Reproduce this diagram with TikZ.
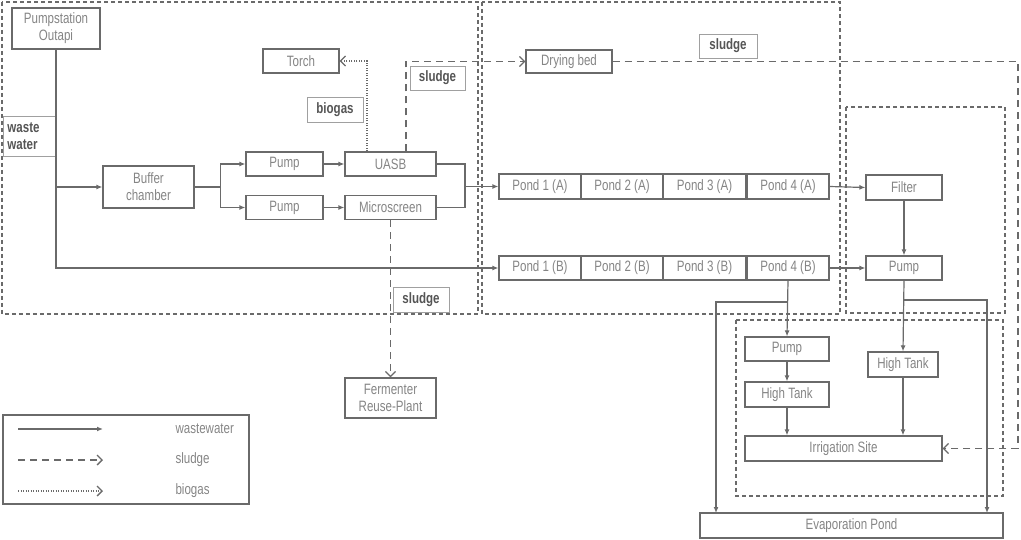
\documentclass[tikz,border=0pt]{standalone}
\usepackage{fontspec}
\setmainfont{Liberation Sans}[FakeStretch=0.77]
\usepackage{tikz}
\usetikzlibrary{arrows.meta}

\definecolor{linegray}{HTML}{6A6A6A}
\definecolor{textgray}{HTML}{858585}
\definecolor{taggray}{HTML}{A0A0A0}
\definecolor{boldgray}{HTML}{555555}

\newcommand{\boxfont}{\fontsize{15}{17}\selectfont}

\tikzset{
	unit/.style = {draw = linegray, line width = 1.2pt, fill = white, text = textgray, inner sep = 0pt, align = center, minimum width = 77pt, minimum height = 24pt},
	tag/.style = {draw = taggray, line width = 0.9pt, fill = white, text = boldgray, font = \boxfont\bfseries, inner sep = 0pt, align = left, minimum height = 25pt},
	water/.style = {draw = linegray, line width = 1.2pt, -{Latex[length = 6pt, width = 5pt]}},
	pipe/.style = {draw = linegray, line width = 1.2pt},
	sludgeflow/.style = {draw = linegray, line width = 1.3pt, dash pattern = on 7pt off 5pt, -{Straight Barb[length = 5pt, width = 10pt]}},
	gasflow/.style = {draw = linegray, line width = 1.3pt, dash pattern = on 1pt off 1.5pt, -{Straight Barb[length = 5pt, width = 10pt]}},
	zone/.style = {draw = linegray, line width = 1.3pt, dash pattern = on 4pt off 3pt}
}

\begin{document}
\begin{tikzpicture}[x = 1pt, y = -1pt, font = \boxfont]
	\useasboundingbox (0, 0) rectangle (1021, 540);
	% zones
	\draw[zone] (2, 2) rectangle (478, 314);
	\draw[zone] (482, 2) rectangle (840, 314);
	\draw[zone] (846, 107) rectangle (1005, 313);
	\draw[zone] (736, 320) rectangle (1003, 496);
	% inflow and pretreatment
	\node[unit, minimum width = 88pt, minimum height = 41pt] (pumpstation) at (56, 28.5) {Pumpstation\\Outapi};
	\node[unit, minimum width = 91pt, minimum height = 42pt] (buffer) at (148.5, 187) {Buffer\\chamber};
	\node[unit] (pumpA) at (284.5, 164) {Pump};
	\node[unit] (pumpB) at (284.5, 207.5) {Pump};
	\node[unit, minimum width = 91pt] (uasb) at (390.5, 164) {UASB};
	\node[unit, minimum width = 91pt] (microscreen) at (390.5, 207.5) {Microscreen};
	\node[unit, minimum width = 76pt] (torch) at (301, 61) {Torch};
	\node[unit, minimum width = 91pt, minimum height = 40pt] (fermenter) at (390.5, 398) {Fermenter\\Reuse-Plant};
	\node[unit, minimum width = 86pt, minimum height = 23pt] (dryingbed) at (569, 61.5) {Drying bed};
	% ponds
	\foreach \i/\x in {1/540, 2/622, 3/704.5, 4/788} {
		\node[unit, minimum width = 82pt, minimum height = 25pt] (pondA\i) at (\x, 186.5) {Pond \i{} (A)};
		\node[unit, minimum width = 82pt, minimum height = 24pt] (pondB\i) at (\x, 268) {Pond \i{} (B)};
	}
	% reuse
	\node[unit, minimum width = 76pt, minimum height = 25pt] (filter) at (904, 187.5) {Filter};
	\node[unit, minimum width = 76pt] (pumpC) at (904, 268) {Pump};
	\node[unit, minimum width = 84pt] (pumpD) at (787, 349) {Pump};
	\node[unit, minimum width = 84pt, minimum height = 25pt] (tankL) at (787, 394.5) {High Tank};
	\node[unit, minimum width = 70pt, minimum height = 25pt] (tankR) at (903, 364.5) {High Tank};
	\node[unit, minimum width = 197pt, minimum height = 25pt] (irrigation) at (843.5, 448.5) {Irrigation Site};
	\node[unit, minimum width = 303pt, minimum height = 25pt] (evap) at (851.5, 525.5) {Evaporation Pond};
	% tags
	\node[tag, minimum width = 52pt, minimum height = 40pt, text width = 44pt, inner sep = 4pt, anchor = west] (wastewatertag) at (3, 136) {waste\\water};
	\node[tag, minimum width = 56pt] (biogastag) at (335, 109.5) {biogas};
	\node[tag, minimum width = 55pt, minimum height = 24pt] (sludgetagA) at (437.5, 78) {sludge};
	\node[tag, minimum width = 56pt] (sludgetagB) at (421, 299.5) {sludge};
	\node[tag, minimum width = 58pt, minimum height = 24pt] (sludgetagC) at (728, 46) {sludge};
	% wastewater lines
	\coordinate (merge) at (465, 186.5);
	\coordinate (splitL) at (788, 302);
	\coordinate (splitR) at (904, 300);
	\coordinate (evapL) at (716, 513);
	\coordinate (evapR) at (987, 513);
	\draw[water] (pumpstation.south) |- (pondB1.west);
	\draw[water] (pumpstation.south |- buffer.west) -- (buffer.west);
	\draw[water] (buffer.east) -- ++(26, 0) |- (pumpA.west);
	\draw[water] (buffer.east) -- ++(26, 0) |- (pumpB.west);
	\draw[water] (pumpA) -- (uasb);
	\draw[water] (pumpB) -- (microscreen);
	\draw[pipe] (uasb.east) -| (merge);
	\draw[pipe] (microscreen.east) -| (merge);
	\draw[water] (merge) -- (pondA1.west);
	\draw[water] (pondA4.east) -- (filter.west);
	\draw[water] (pondB4.east) -- (pumpC.west);
	\draw[water] (filter) -- (pumpC);
	\draw[water] (pondB4.south) -- (pumpD.north);
	\draw[water] (splitL) -| (evapL);
	\draw[water] (pumpD) -- (tankL);
	\draw[water] (tankL.south) -- (tankL.south |- irrigation.north);
	\draw[water] (pumpC.south) -- (tankR.north);
	\draw[water] (splitR) -| (evapR);
	\draw[water] (tankR.south) -- (tankR.south |- irrigation.north);
	% sludge and biogas lines
	\coordinate (sludgecorner) at (1018, 61.5);
	\draw[gasflow] ([xshift = -23.5pt]uasb.north) |- (torch.east);
	\draw[sludgeflow] ([xshift = 15.5pt]uasb.north) |- (dryingbed.west);
	\draw[sludgeflow] (microscreen.south) -- (fermenter.north);
	\draw[sludgeflow] (dryingbed.east) -- (sludgecorner) |- (irrigation.east);
	% legend
	\draw[pipe] (3, 415) rectangle (249, 504);
	\coordinate (legA) at (18, 429);
	\coordinate (legB) at (18, 460);
	\coordinate (legC) at (18, 491);
	\draw[water] (legA) -- ++(85, 0);
	\draw[sludgeflow] (legB) -- ++(85, 0);
	\draw[gasflow] (legC) -- ++(85, 0);
	\node[text = textgray, anchor = west] (legwater) at (172, 429) {wastewater};
	\node[text = textgray, anchor = west] (legsludge) at (172, 460) {sludge};
	\node[text = textgray, anchor = west] (leggas) at (172, 491) {biogas};
\end{tikzpicture}
\end{document}
